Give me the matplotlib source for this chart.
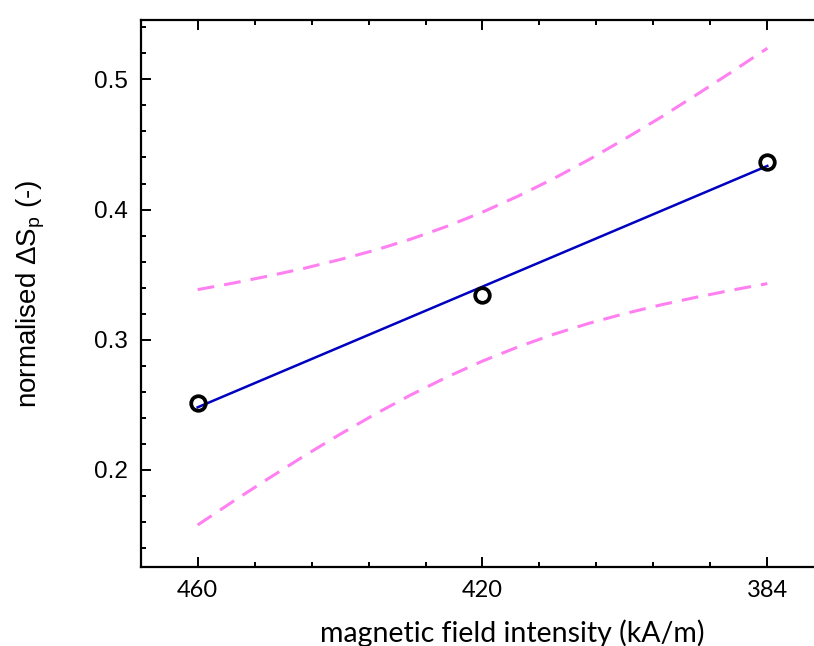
import matplotlib
matplotlib.use("Agg")
import matplotlib.pyplot as plt
from matplotlib.ticker import MultipleLocator, FixedLocator, FormatStrFormatter

plt.rcParams["mathtext.fontset"] = "custom"
plt.rcParams["mathtext.rm"] = "Liberation Sans"
plt.rcParams["mathtext.it"] = "Liberation Sans"
plt.rcParams["mathtext.default"] = "regular"

# ---- data ----
field_labels = ["460", "420", "384"]
dsp_values = [0.2512, 0.3346, 0.4366]

fit_pos = [0, 2]
fit_values = [0.2481, 0.4335]

band_pos = [0, 0.125, 0.25, 0.375, 0.5, 0.625, 0.75, 0.875, 1.0,
            1.125, 1.25, 1.375, 1.5, 1.625, 1.75, 1.875, 2.0]
band_upper = [0.3385, 0.3435, 0.3490, 0.3549, 0.3616, 0.3689, 0.3774, 0.3871, 0.3980,
              0.4103, 0.4238, 0.4385, 0.4543, 0.4707, 0.4880, 0.5057, 0.5239]
band_lower = [0.1577, 0.1759, 0.1936, 0.2109, 0.2274, 0.2431, 0.2578, 0.2713, 0.2836,
              0.2945, 0.3042, 0.3127, 0.3201, 0.3267, 0.3326, 0.3381, 0.3431]

W, H = 814, 646
fig = plt.figure(figsize=(W / 100, H / 100), dpi=100)
left, right, top, bottom = 140.7, 824.3, 19.6, 567.3
ax = fig.add_axes([left / W, 1 - bottom / H, (right - left) / W, (bottom - top) / H])

pink = "#FF80F0"
ax.plot(band_pos, band_upper, linestyle=(0, (5.5, 3.3)), color=pink, lw=2.2)
ax.plot(band_pos, band_lower, linestyle=(0, (5.5, 3.3)), color=pink, lw=2.2)
ax.plot(fit_pos, fit_values, color="#0000C0", lw=1.8)
ax.plot(range(len(dsp_values)), dsp_values, linestyle="none", marker="o",
        markersize=10.5, markerfacecolor="none", markeredgecolor="black",
        markeredgewidth=2.7)

ax.set_xlim(-0.2, 2.2)
ax.set_ylim(0.1252, 0.5459)

ax.xaxis.set_major_locator(FixedLocator([0, 1, 2]))
ax.set_xticklabels(field_labels)
ax.xaxis.set_minor_locator(MultipleLocator(0.2))
ax.yaxis.set_major_locator(MultipleLocator(0.1))
ax.yaxis.set_minor_locator(MultipleLocator(0.02))
ax.yaxis.set_major_formatter(FormatStrFormatter("%.1f"))

ax.tick_params(which="both", direction="in", top=True, right=True, width=1.4)
ax.tick_params(which="major", length=7.5)
ax.tick_params(which="minor", length=3.8)
ax.tick_params(axis="y", which="minor", right=False)
ax.tick_params(axis="y", pad=9, labelsize=17.5, labelfontfamily="Liberation Sans")
ax.tick_params(axis="x", pad=9, labelsize=17, labelfontfamily="Lato")

for sp in ax.spines.values():
    sp.set_linewidth(1.6)

ax.set_ylabel(r"normalised $\Delta S_{p}$ (-)", fontfamily="Liberation Sans", fontsize=20)
ax.yaxis.set_label_coords(-94 / (right - left), 0.5)
fig.text(512 / W, 1 - 633 / H, "magnetic field intensity (kA/m)", ha="center", va="center",
         fontfamily="Lato", fontsize=20.5)

fig.savefig("out.png", dpi=100)
